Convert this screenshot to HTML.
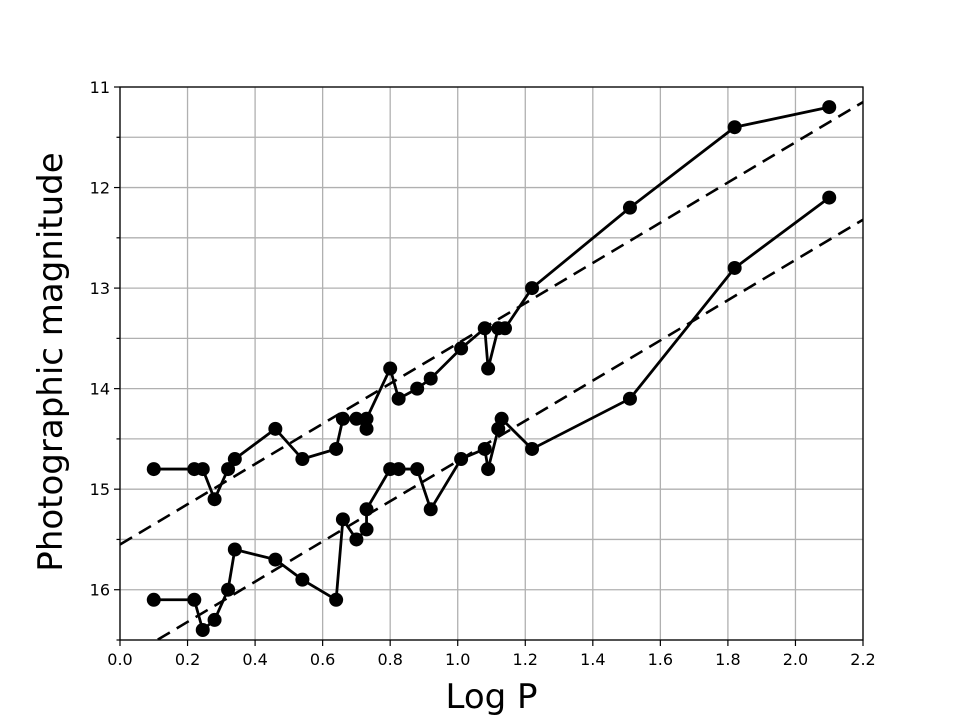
<!DOCTYPE html>
<html><head><meta charset="utf-8"><style>
body{margin:0;background:#fff}
svg{display:block;font-family:"DejaVu Sans","Liberation Sans",sans-serif}
</style></head><body>
<svg id="chart" width="961" height="721"></svg>
<script>
const logP=[0.10,0.22,0.245,0.28,0.32,0.34,0.46,0.54,0.64,0.66,0.70,0.73,0.73,0.80,0.825,0.88,0.92,1.01,1.08,1.09,1.12,1.14,1.22,1.51,1.82,2.10];
const maxMag=[14.8,14.8,14.8,15.1,14.8,14.7,14.4,14.7,14.6,14.3,14.3,14.4,14.3,13.8,14.1,14.0,13.9,13.6,13.4,13.8,13.4,13.4,13.0,12.2,11.4,11.2];
const minLogP=[0.10,0.22,0.245,0.28,0.32,0.34,0.46,0.54,0.64,0.66,0.70,0.73,0.73,0.80,0.825,0.88,0.92,1.01,1.08,1.09,1.12,1.13,1.22,1.51,1.82,2.10];
const minMag=[16.1,16.1,16.4,16.3,16.0,15.6,15.7,15.9,16.1,15.3,15.5,15.4,15.2,14.8,14.8,14.8,15.2,14.7,14.6,14.8,14.4,14.3,14.6,14.1,12.8,12.1];
const fitIntercepts=[15.55,16.72];
const fitSlope=-2.0;
const xTicks=[0,0.2,0.4,0.6,0.8,1.0,1.2,1.4,1.6,1.8,2.0,2.2];
const yTicks=[11,12,13,14,15,16];
const yGrid=[11,11.5,12,12.5,13,13.5,14,14.5,15,15.5,16,16.5];

const L=120,R=863,T=87,B=640;
const x=v=>L+(v-0)/(2.2)*(R-L);
const y=v=>T+(v-11)/(5.5)*(B-T);
const svg=document.getElementById('chart');
const NS='http://www.w3.org/2000/svg';
function mk(tag,attrs,parent){const e=document.createElementNS(NS,tag);for(const k in attrs)e.setAttribute(k,attrs[k]);(parent||svg).appendChild(e);return e;}

const defs=mk('clipPath',{id:'clip'});mk('rect',{x:L,y:T,width:R-L,height:B-T},defs);
const grid=mk('g',{});


xTicks.forEach(t=>{mk('line',{x1:x(t),x2:x(t),y1:T,y2:B,stroke:'#b0b0b0','stroke-width':1.3},grid);});
yGrid.forEach(t=>{mk('line',{x1:L,x2:R,y1:y(t),y2:y(t),stroke:'#b0b0b0','stroke-width':1.3},grid);});

const plot=mk('g',{'clip-path':'url(#clip)'});
fitIntercepts.forEach((b,i)=>{
 const l=mk('line',{x1:x(0),y1:y(b),x2:x(2.2),y2:y(b+fitSlope*2.2),stroke:'#000','stroke-width':2.6,'stroke-dasharray':'14,8'},plot);
 
 
});
function series(xs,ys,name){
 const g=mk('g',{},plot);
 
 
 mk('polyline',{points:xs.map((v,i)=>x(v)+','+y(ys[i])).join(' '),fill:'none',stroke:'#000','stroke-width':2.8},g);
 xs.forEach((v,i)=>{const c=mk('circle',{cx:x(v),cy:y(ys[i]),r:7,fill:'#000'},g);
  
  });
}
series(logP,maxMag,'max-magnitude-series');
series(minLogP,minMag,'min-magnitude-series');

const ax=mk('rect',{x:L,y:T,width:R-L,height:B-T,fill:'none',stroke:'#000','stroke-width':1.3});


xTicks.forEach(t=>{mk('line',{x1:x(t),x2:x(t),y1:B,y2:B+6,stroke:'#000','stroke-width':1.2});
 const tx=mk('text',{x:x(t),y:B+25,'font-size':16,'text-anchor':'middle'});tx.textContent=t.toFixed(1);
 
 });
yGrid.forEach(t=>{mk('line',{x1:L-(Number.isInteger(t)?6:3.5),x2:L,y1:y(t),y2:y(t),stroke:'#000','stroke-width':1.2});});
yTicks.forEach(t=>{const tx=mk('text',{x:L-10,y:y(t)+6,'font-size':16,'text-anchor':'end'});tx.textContent=t;
 
 });
const xl=mk('text',{x:(L+R)/2,y:708,'font-size':34,'text-anchor':'middle'});xl.textContent='Log P';


const yl=mk('text',{x:0,y:0,'font-size':34,'text-anchor':'middle',transform:'translate(62,362) rotate(-90)'});yl.textContent='Photographic magnitude';


</script>
</body></html>
